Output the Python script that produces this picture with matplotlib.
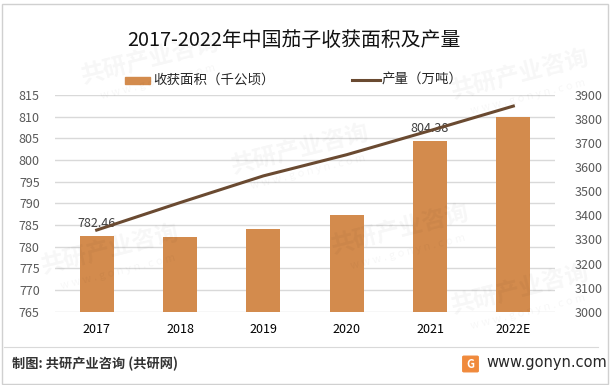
import matplotlib.pyplot as plt
from matplotlib.patches import Rectangle, FancyBboxPatch
from matplotlib.lines import Line2D

plt.rcParams['font.family'] = ['Noto Sans CJK SC', 'DejaVu Sans']

# ---------------- data ----------------
years = ['2017', '2018', '2019', '2020', '2021', '2022E']
area = [782.46, 782.2, 784.0, 787.2, 804.38, 809.9]      # 收获面积（千公顷）
output = [3339, 3453, 3564, 3652, 3752, 3854]            # 产量（万吨）
label_idx = [0, 4]                                        # bars with data labels

BAR_C = '#D38B4D'
LINE_C = '#6A4A31'
GRID_C = '#D9D9D9'
TXT_C = '#404040'

W, H = 612, 385
fig = plt.figure(figsize=(6.12, 3.85), dpi=100)

ax = fig.add_axes([55 / W, 1 - 311.7 / H, 500 / W, (311.7 - 95) / H])
ax.set_facecolor('none')
x = range(len(years))
ax.bar(x, area, width=0.41, color=BAR_C, zorder=2)
ax.set_ylim(765, 815)
ax.set_yticks(range(765, 816, 5))
ax.set_xlim(-0.5, len(years) - 0.5)
ax.set_xticks(list(x))
ax.set_xticklabels(years)
ax.grid(axis='y', color=GRID_C, linewidth=1, zorder=0)
ax.tick_params(axis='both', length=0, labelsize=9, colors='#595959')
ax.tick_params(axis='x', colors='black', pad=8)
ax.tick_params(axis='y', pad=11)
for s in ax.spines.values():
    s.set_visible(False)

for i in label_idx:
    ax.annotate(f'{area[i]:.2f}', (i, area[i]), xytext=(0, 4), textcoords='offset points',
                ha='center', va='bottom', fontsize=9, color=TXT_C, zorder=5)

ax2 = ax.twinx()
ax2.plot(x, output, color=LINE_C, linewidth=2.2, zorder=3)
ax2.set_ylim(3000, 3900)
ax2.set_yticks(range(3000, 3901, 100))
ax2.tick_params(axis='y', length=0, labelsize=9, colors='#595959', pad=14)
for s in ax2.spines.values():
    s.set_visible(False)

# title
fig.text(294 / W, 1 - 40 / H, '2017-2022年中国茄子收获面积及产量', fontsize=14.3,
         ha='center', va='center', color='#111111')

# legend
fig.add_artist(Rectangle((125 / W, 1 - 84 / H), 25 / W, 7 / H, color=BAR_C,
                         transform=fig.transFigure))
fig.text(153 / W, 1 - 80 / H, '收获面积（千公顷）', fontsize=9.7, va='center', color='#262626')
fig.add_artist(Line2D([352 / W, 380 / W], [1 - 80 / H, 1 - 80 / H], color=LINE_C,
                      linewidth=2.2, transform=fig.transFigure))
fig.text(382 / W, 1 - 80 / H, '产量（万吨）', fontsize=9.7, va='center', color='#262626')

# footer
fig.add_artist(Line2D([4 / W, 598 / W], [1 - 347 / H, 1 - 347 / H], color='#D9D9D9',
                      linewidth=0.8, transform=fig.transFigure))
fig.text(12 / W, 1 - 364 / H, '制图: 共研产业咨询 (共研网)', fontsize=9.5,
         fontweight='bold', va='center', color='#333333')
fig.add_artist(FancyBboxPatch((464 / W, 1 - 371 / H), 13 / W, 14 / H,
                              boxstyle='round,pad=0.002', color='#F08A3C',
                              transform=fig.transFigure))
fig.text(470.5 / W, 1 - 364 / H, 'G', fontsize=8, fontweight='bold', color='white',
         ha='center', va='center')
fig.text(486 / W, 1 - 363 / H, 'www.gonyn.com', fontsize=10.5, va='center',
         color='#262626', family='DejaVu Sans')

# very faint watermark on top
for (wx, wy) in [(150, 60), (300, 150), (400, 230), (520, 75), (110, 250), (520, 290)]:
    fig.text(wx / W, 1 - wy / H, '共研产业咨询', fontsize=17, fontweight='bold',
             color='black', alpha=0.035, rotation=14, ha='center', va='center')
    fig.text((wx + 8) / W, 1 - (wy + 22) / H, 'w w w . g o n y n . c o m',
             fontsize=8, color='black', alpha=0.035, rotation=14, ha='center', va='center')

# outer border
fig.add_artist(Rectangle((1.5 / W, 1.5 / H), (W - 6) / W, (H - 5) / H, fill=False,
                         edgecolor='#D0D0D0', linewidth=1, transform=fig.transFigure))

fig.savefig('out.png', dpi=100)
